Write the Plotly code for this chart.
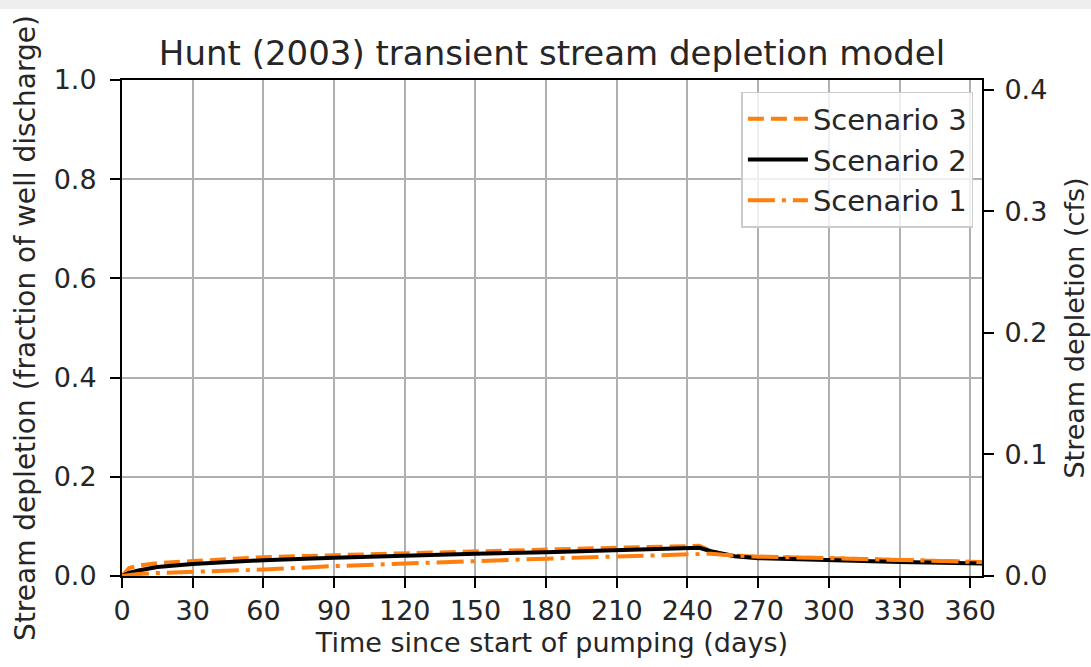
import plotly.graph_objects as go

# ---- data ----
days = [0, 3, 7, 15, 30, 45, 60, 90, 120, 150, 180, 210, 240, 245,
        250, 255, 260, 270, 300, 330, 365]
scenario3 = [0, 0.016, 0.021, 0.026, 0.030, 0.034, 0.038, 0.042, 0.046, 0.050, 0.054, 0.057, 0.060, 0.061,
             0.050, 0.044, 0.041, 0.039, 0.036, 0.032, 0.028]
scenario2 = [0, 0.006, 0.011, 0.018, 0.024, 0.028, 0.032, 0.037, 0.042, 0.045, 0.048, 0.052, 0.056, 0.057,
             0.050, 0.044, 0.040, 0.036, 0.031, 0.028, 0.025]
scenario1 = [0, 0.002, 0.004, 0.006, 0.008, 0.010, 0.013, 0.020, 0.026, 0.030, 0.035, 0.039, 0.042, 0.043,
             0.045, 0.043, 0.041, 0.039, 0.036, 0.032, 0.028]
Q_WELL_CFS = 0.408          # well discharge, cfs (right axis = fraction * Q)
x_ticks = list(range(0, 361, 30))
y_left_ticks = [0.0, 0.2, 0.4, 0.6, 0.8, 1.0]
y_right_ticks = [0.0, 0.1, 0.2, 0.3, 0.4]

ORANGE = "#ff7f0e"
FONT = "DejaVu Sans"
TXT = "#262626"

fig = go.Figure()
fig.add_trace(go.Scatter(x=days, y=scenario3, name="Scenario 3", mode="lines",
                         line=dict(color=ORANGE, width=4, dash="16px,7px")))
fig.add_trace(go.Scatter(x=days, y=scenario2, name="Scenario 2", mode="lines",
                         line=dict(color="black", width=4)))
fig.add_trace(go.Scatter(x=days, y=scenario1, name="Scenario 1", mode="lines",
                         line=dict(color=ORANGE, width=4, dash="27px,7px,4px,7px")))
# invisible trace to carry the right-hand (cfs) axis
fig.add_trace(go.Scatter(x=days, y=[v * Q_WELL_CFS for v in scenario2], yaxis="y2",
                         mode="lines", line=dict(width=0, color="rgba(0,0,0,0)"),
                         showlegend=False, hoverinfo="skip"))

axis_common = dict(showline=True, linecolor="black", linewidth=2,
                   ticks="outside", ticklen=10, tickwidth=2, tickcolor="black",
                   tickfont=dict(family=FONT, size=27, color=TXT),
                   zeroline=False, automargin=False)

fig.update_layout(
    width=1091, height=667,
    margin=dict(l=122, r=109, t=80, b=91, autoexpand=False),
    paper_bgcolor="white", plot_bgcolor="white",
    font=dict(family=FONT, size=27, color=TXT),
    title=dict(text="Hunt (2003) transient stream depletion model",
               font=dict(family=FONT, size=34, color=TXT),
               x=0.5, xref="paper", xanchor="center", y=0.92, yanchor="middle",
               automargin=False),
    xaxis=dict(range=[0, 365], tickvals=x_ticks, showgrid=True, gridcolor="#b0b0b0",
               gridwidth=2, mirror=True, ticklabelstandoff=0,
               title=dict(text="Time since start of pumping (days)",
                          font=dict(family=FONT, size=27, color=TXT), standoff=8),
               **axis_common),
    yaxis=dict(range=[0, 1.0], tickvals=y_left_ticks, tickformat=".1f", showgrid=True,
               gridcolor="#b0b0b0", gridwidth=2, mirror=True, ticklabelstandoff=8,
               title=dict(text="Stream depletion (fraction of well discharge)",
                          font=dict(family=FONT, size=28, color=TXT), standoff=10),
               **axis_common),
    yaxis2=dict(overlaying="y", side="right", range=[0, Q_WELL_CFS],
                tickvals=y_right_ticks, tickformat=".1f", showgrid=False,
                ticklabelstandoff=5,
                title=dict(text="Stream depletion (cfs)",
                           font=dict(family=FONT, size=27, color=TXT), standoff=19),
                **axis_common),
    legend=dict(x=0.99, y=0.976, xanchor="right", yanchor="top",
                bgcolor="rgba(255,255,255,0.8)", bordercolor="#cccccc", borderwidth=1.5,
                font=dict(family=FONT, size=29, color=TXT), tracegroupgap=0,
                itemwidth=60),
    showlegend=True,
)

# light gray strip at the very top of the picture
fig.add_shape(type="rect", xref="paper", yref="paper",
              x0=-122 / 860, x1=1 + 109 / 860, y0=1 + 71 / 496, y1=1 + 80 / 496,
              fillcolor="#eeeeee", line=dict(width=0), layer="above")

# remove the browser's default page margin so the figure sits at the window corner
fig.write_html("out.html", config={"displayModeBar": False},
               post_script="document.body.style.margin='0';document.body.style.overflow='hidden';")
